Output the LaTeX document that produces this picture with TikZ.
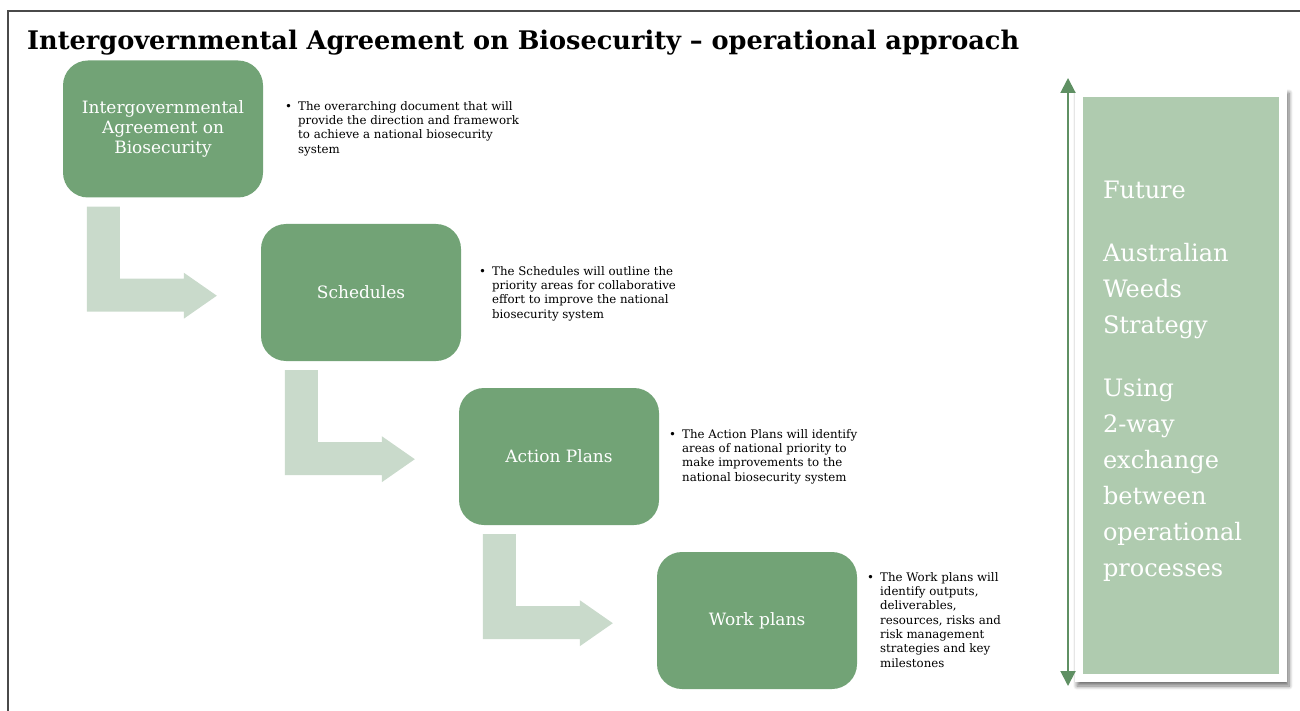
\documentclass[tikz,border=0pt]{standalone}
\usepackage{fontspec}
\setmainfont{DejaVu Serif}
\usepackage{tikz}
\usetikzlibrary{positioning,calc,arrows.meta,shadows.blur}

\definecolor{boxgreen}{HTML}{72A376}
\definecolor{bendgreen}{HTML}{C9DACB}
\definecolor{panelgreen}{HTML}{AFCBAF}
\definecolor{linegreen}{HTML}{5F9063}
\definecolor{framegray}{HTML}{4A4A4A}

% bullet followed by a block of lines
\newcommand{\bulletnote}[1]{\begin{tabular}[t]{@{}l@{\hspace{6pt}}l@{}}\textbullet & \begin{tabular}[t]{@{}l@{}}#1\end{tabular}\end{tabular}}

\tikzset{
    stage/.style={fill=boxgreen, rounded corners=25pt, minimum width=200pt, minimum height=137pt,
        inner sep=0pt, align=center, text=white, font=\fontsize{17}{20}\selectfont},
    note/.style={anchor=north west, inner sep=0pt, font=\fontsize{11.8}{14.3}\selectfont},
    bendarrow/.style={fill=bendgreen},
}

\begin{document}
\begin{tikzpicture}[x=1pt, y=-1pt]
    \useasboundingbox (0,0) rectangle (1300,711);

    % slide frame and title
    \draw[framegray, line width=1.5pt] (8,711) -- (8,11) -- (1300,11);
    \node[anchor=base west, inner sep=0pt, font=\fontsize{25.6}{28}\selectfont\bfseries] (title) at (27,50)
        {Intergovernmental Agreement on Biosecurity -- operational approach};

    % the four stages
    \node[stage] (iga) at (163,129) {Intergovernmental\\Agreement on\\Biosecurity};
    \node[stage] (sched) at (361,292.5) {Schedules};
    \node[stage] (action) at (559,456.5) {Action Plans};
    \node[stage] (work) at (757,620.5) {Work plans};

    % bent arrows from one stage down to the next
    \foreach \a in {iga, sched, action} {
        \fill[bendarrow] ($(\a.south west)+(24,9)$) -- ++(33,0) -- ++(0,72) -- ++(64,0) -- ++(0,-6)
            -- ++(33,23) -- ++(-33,23) -- ++(0,-7) -- ++(-97,0) -- cycle;
    }

    % notes
    \node[note] (igatxt) at (285,100) {\bulletnote{The overarching document that will\\provide the direction and framework\\to achieve a national biosecurity\\system}};
    \node[note] (schedtxt) at (479,265) {\bulletnote{The Schedules will outline the\\priority areas for collaborative\\effort to improve the national\\biosecurity system}};
    \node[note] (actiontxt) at (669,428) {\bulletnote{The Action Plans will identify\\areas of national priority to\\make improvements to the\\national biosecurity system}};
    \node[note] (worktxt) at (867,571) {\bulletnote{The Work plans will\\identify outputs,\\deliverables,\\resources, risks and\\risk management\\strategies and key\\milestones}};

    % side panel
    \node[fill=white, minimum width=212pt, minimum height=593pt, inner sep=0pt,
        blur shadow={shadow xshift=2pt, shadow yshift=-4pt, shadow blur radius=4pt, shadow blur steps=8,
        shadow opacity=55}] (frame) at (1181,385.5) {};
    \node[fill=panelgreen, minimum width=196pt, minimum height=577pt, inner sep=0pt] (panel) at (frame) {};
    \node[anchor=north west, inner sep=0pt, align=left, text=white, font=\fontsize{24}{36}\selectfont] (paneltxt)
        at ($(panel.north west)+(20,84)$)
        {Future\\[27pt]Australian\\Weeds\\Strategy\\[27pt]Using\\2-way\\exchange\\between\\operational\\processes};

    \coordinate (up) at (1068,78);
    \coordinate (down) at (1068,686);
    \draw[linegreen, line width=2pt, {Triangle[width=15pt,length=15pt]}-{Triangle[width=15pt,length=15pt]}] (up) -- (down);
\end{tikzpicture}
\end{document}
